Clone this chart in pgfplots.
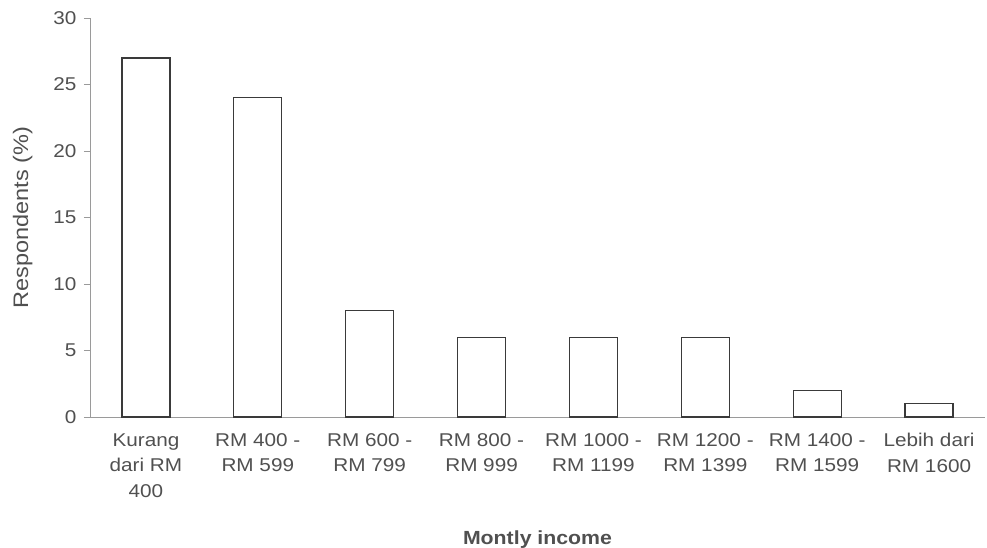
\documentclass[border=0pt]{standalone}
\usepackage{fontspec}
\setmainfont{Liberation Sans}[FakeStretch=1.12]
\usepackage{pgfplots}
\pgfplotsset{compat=1.18}
\definecolor{axgray}{HTML}{9A9A9A}
\definecolor{txtgray}{HTML}{505050}
\definecolor{barline}{HTML}{3A3A3A}
\begin{document}
\begin{tikzpicture}
\begin{axis}[
  at={(0,0)}, anchor=south west,
  scale only axis,
  width=895pt, height=399pt,
  xmin=-0.5, xmax=7.5, ymin=0, ymax=30,
  axis x line=bottom, axis y line=left,
  axis line style={axgray, line width=0.8pt, -},
  ytick={0,5,...,30},
  /pgf/number format/assume math mode=true,
  yticklabel style={font=\fontsize{18.5}{20}\selectfont, text=txtgray, xshift=-4pt},
  ytick style={axgray, line width=0.8pt},
  y tick label style={anchor=east},
  major tick length=6pt,
  tick align=outside,
  xtick={0,...,7},
  xticklabels={{Kurang\\dari RM\\400},{RM 400 -\\RM 599},{RM 600 -\\RM 799},{RM 800 -\\RM 999},{RM 1000 -\\RM 1199},{RM 1200 -\\RM 1399},{RM 1400 -\\RM 1599},{Lebih dari\\RM 1600}},
  x tick style={draw=none},
  xticklabel style={font=\fontsize{18.5}{25.5}\selectfont, text=txtgray, align=center, anchor=north, yshift=-7pt},
  minor xtick={-0.5,0.5,...,7.5},
  minor x tick style={axgray, line width=0.8pt},
  minor tick length=6pt,
  xlabel={Montly income},
  xlabel style={font=\fontsize{19}{21}\selectfont\bfseries, text=txtgray, yshift=-26pt},
  ylabel={Respondents (\%)},
  ylabel style={font=\fontsize{21}{23}\selectfont, text=txtgray, yshift=14pt},
  clip=false,
]
\addplot[ybar, bar width=48pt, draw=barline, fill=white, line width=1.3pt]
  coordinates {(0,27) (1,24) (2,8) (3,6) (4,6) (5,6) (6,2) (7,1)};
\end{axis}
\pgfresetboundingbox
\path[use as bounding box] (-90pt,-131pt) rectangle (897pt,417pt);
\end{tikzpicture}
\end{document}
